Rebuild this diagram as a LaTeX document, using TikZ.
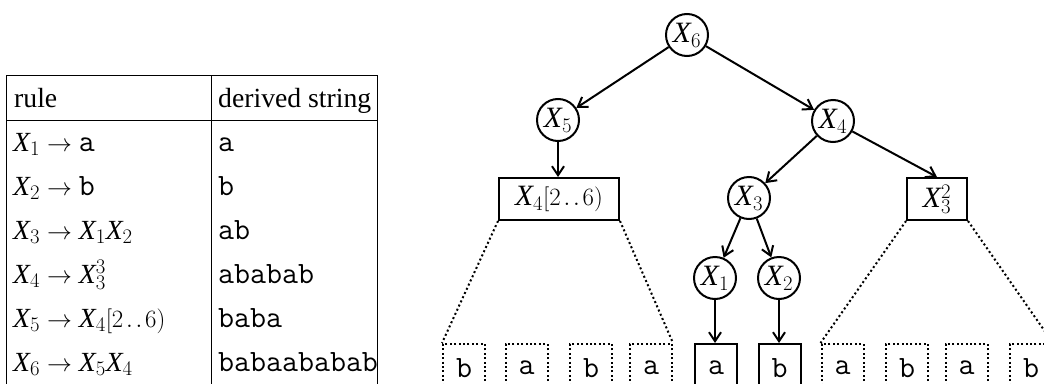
\documentclass[tikz,border=0pt]{standalone}
\usepackage{fontspec}
\setmainfont{Liberation Serif}
\setmonofont{Latin Modern Mono}[Scale=1.12]
\usetikzlibrary{arrows.meta}
\DeclareMathSizes{27.7}{27.7}{21}{15}
\DeclareMathSizes{29.5}{29.5}{22.5}{16}
\newcommand\VX{\mathit{X}}
\newcommand\rng{[2\mkern2mu.\mkern2mu.\mkern2mu6)}
\begin{document}
\begin{tikzpicture}[x=1pt,y=-1pt,
  bigfont/.style={font=\fontsize{27.7}{32}\selectfont},
  treefont/.style={font=\fontsize{29.5}{32}\selectfont},
  cell/.style={anchor=base west,inner sep=0pt,bigfont},
  tn/.style={circle,draw,line width=2pt,minimum size=42pt,inner sep=0pt,treefont},
  tb/.style={rectangle,draw,line width=2pt,minimum height=42pt,inner sep=0pt,treefont},
  leafbox/.style={rectangle,draw,line width=2pt,minimum width=42pt,minimum height=48pt,inner sep=0pt,anchor=north,font=\ttfamily\fontsize{27.7}{32}\selectfont},
  dleaf/.style={leafbox,dash pattern=on 2pt off 2.4pt},
  arr/.style={-{Straight Barb[length=9pt,width=12pt]},line width=2pt},
  dl/.style={line width=2pt,dash pattern=on 2pt off 2.6pt},
  tline/.style={line width=0.9pt}]
\useasboundingbox (0,0) rectangle (1044,383);
\clip (0,0) rectangle (1044,383);
% table
\draw[tline] (6,75) -- (377,75);
\draw[tline] (6,120) -- (377,120);
\draw[tline] (6,75) -- (6,390);
\draw[tline] (211,75) -- (211,390);
\draw[tline] (377,75) -- (377,390);
\node[cell] (h1) at (14,107) {rule};
\node[cell] (h2) at (218,107) {derived string};
\node[cell] (r1) at (13,151) {$\VX_1\to{}$\texttt{a}};
\node[cell] (s1) at (218,151) {\texttt{a}};
\node[cell] (r2) at (13,195) {$\VX_2\to{}$\texttt{b}};
\node[cell] (s2) at (218,195) {\texttt{b}};
\node[cell] (r3) at (13,239) {$\VX_3\to \VX_1\VX_2$};
\node[cell] (s3) at (218,239) {\texttt{ab}};
\node[cell] (r4) at (13,283) {$\VX_4\to \VX_3^3$};
\node[cell] (s4) at (218,283) {\texttt{ababab}};
\node[cell] (r5) at (13,327) {$\VX_5\to \VX_4\rng$};
\node[cell] (s5) at (218,327) {\texttt{baba}};
\node[cell] (r6) at (13,371) {$\VX_6\to \VX_5\VX_4$};
\node[cell] (s6) at (218,371) {\texttt{babaababab}};
% tree
\node[tn] (x6) at (687,35) {$\VX_6$};
\node[tn] (x5) at (558,120) {$\VX_5$};
\node[tn] (x4) at (833,121) {$\VX_4$};
\node[tb,minimum width=120pt] (x4r) at (559,199) {$\VX_4\rng$};
\node[tn] (x3) at (749,198) {$\VX_3$};
\node[tb,minimum width=60pt] (x32) at (937,199) {$\VX_3^2$};
\node[tn] (x1) at (715,278) {$\VX_1$};
\node[tn] (x2) at (779,278) {$\VX_2$};
\node[dleaf] (l1) at (464,343) {b};
\node[dleaf] (l2) at (526.5,343) {a};
\node[dleaf] (l3) at (591,343) {b};
\node[dleaf] (l4) at (651,343) {a};
\node[leafbox] (l5) at (716,343) {a};
\node[leafbox] (l6) at (779.5,343) {b};
\node[dleaf] (l7) at (842.5,343) {a};
\node[dleaf] (l8) at (907,343) {b};
\node[dleaf] (l9) at (966.5,343) {a};
\node[dleaf] (l10) at (1031,343) {b};
\draw[arr] (x6) -- (x5);
\draw[arr] (x6) -- (x4);
\draw[arr] (x5) -- (x5 |- x4r.north);
\draw[arr] (x4) -- (x3);
\draw[arr] (x4) -- (x32.north);
\draw[arr] (x3) -- (x1);
\draw[arr] (x3) -- (x2);
\draw[arr] (x1) -- (x1 |- l5.north);
\draw[arr] (x2) -- (x2 |- l6.north);
\draw[dl] (x4r.south west) -- (l1.north west);
\draw[dl] (x4r.south east) -- (l4.north east);
\draw[dl] (x32.south west) -- (l7.north west);
\draw[dl] (x32.south east) -- (l10.north east);
\end{tikzpicture}
\end{document}
